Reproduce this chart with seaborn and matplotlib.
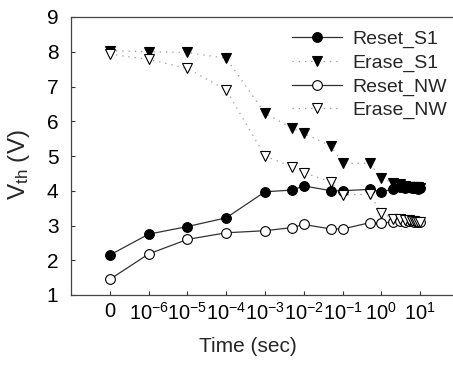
import numpy as np
import pandas as pd
import seaborn as sns
import matplotlib.pyplot as plt

times = [0, 1e-6, 1e-5, 1e-4, 1e-3, 5e-3, 1e-2, 5e-2, 1e-1, 5e-1,
         1, 2, 3, 4, 5, 6, 7, 8, 9, 10]
reset_s1 = [2.15, 2.75, 2.97, 3.22, 3.97, 4.02, 4.14, 4.00, 4.00, 4.04,
            3.97, 4.05, 4.10, 4.08, 4.10, 4.08, 4.07, 4.08, 4.06, 4.07]
erase_s1 = [8.03, 8.00, 7.98, 7.81, 6.23, 5.81, 5.65, 5.29, 4.79, 4.79,
            4.36, 4.23, 4.18, 4.15, 4.12, 4.12, 4.10, 4.10, 4.10, 4.08]
reset_nw = [1.45, 2.18, 2.60, 2.79, 2.85, 2.94, 3.03, 2.90, 2.90, 3.08,
            3.07, 3.10, 3.12, 3.10, 3.12, 3.12, 3.10, 3.12, 3.10, 3.10]
erase_nw = [7.93, 7.78, 7.52, 6.90, 5.00, 4.69, 4.52, 4.26, 3.88, 3.90,
            3.35, 3.20, 3.18, 3.15, 3.15, 3.12, 3.12, 3.10, 3.10, 3.10]
tick_labels = ['0', '$10^{-6}$', '$10^{-5}$', '$10^{-4}$', '$10^{-3}$',
               '$10^{-2}$', '$10^{-1}$', '$10^{0}$', '$10^{1}$']


def to_pos(t):
    # broken time axis: 0 sits one decade left of 1e-6
    t = np.asarray(t, dtype=float)
    out = np.zeros_like(t)
    out[t > 0] = np.log10(t[t > 0]) + 7
    return out


df = pd.DataFrame({'pos': to_pos(times), 'Reset_S1': reset_s1, 'Erase_S1': erase_s1,
                   'Reset_NW': reset_nw, 'Erase_NW': erase_nw})

sns.set_style('ticks')
plt.rcParams['font.family'] = ['Liberation Sans', 'DejaVu Sans']
plt.rcParams['mathtext.fontset'] = 'custom'
plt.rcParams['mathtext.rm'] = 'Liberation Sans'
plt.rcParams['mathtext.it'] = 'Liberation Sans'

fig = plt.figure(figsize=(4.53, 3.66), dpi=100)
ax = fig.add_axes([71 / 453, 1 - 295 / 366, 388 / 453, 278 / 366])

dot = (0, (1, 4))
styles = {
    'Reset_S1': dict(marker='o', color='#333333', mfc='black', mec='black', ls='-', ms=7),
    'Erase_S1': dict(marker='v', color='#999999', mfc='black', mec='black', ls=dot, ms=7.5),
    'Reset_NW': dict(marker='o', color='#333333', mfc='white', mec='black', ls='-', ms=7),
    'Erase_NW': dict(marker='v', color='#999999', mfc='white', mec='black', ls=dot, ms=7.5),
}
for name in ['Reset_S1', 'Erase_S1', 'Reset_NW', 'Erase_NW']:
    st = styles[name]
    sns.lineplot(data=df, x='pos', y=name, ax=ax, label=name, sort=False,
                 marker=st['marker'], color=st['color'], linestyle=st['ls'],
                 markerfacecolor=st['mfc'], markeredgecolor=st['mec'],
                 markersize=st['ms'], markeredgewidth=0.8, linewidth=0.9)

ax.set_xlim(-1, 9)
ax.set_ylim(1, 9)
ax.set_xticks(range(9))
ax.set_xticklabels(tick_labels)
ax.set_yticks(range(1, 10))
ax.tick_params(direction='in', length=3, width=0.8, colors='#333333',
               labelcolor='black')
ax.tick_params(axis='y', pad=9, labelsize=15)
ax.tick_params(axis='x', pad=5, labelsize=14.5)
for s in ax.spines.values():
    s.set_color('#444444')
    s.set_linewidth(0.9)

ax.set_xlabel('Time (sec)', fontsize=15)
ax.xaxis.set_label_coords((248 - 71) / 388, -(346 - 295) / 278)
ax.set_ylabel('V$_{\\mathrm{th}}$ (V)', fontsize=17.5)
ax.yaxis.set_label_coords(-(71 - 19) / 388, (295 - 165) / 278)
ax.yaxis.label.set_verticalalignment('center')
ax.xaxis.label.set_verticalalignment('center')

leg = ax.legend(loc='upper right', bbox_to_anchor=(1.004, 1.0), frameon=False,
                fontsize=14, handlelength=2.6, handletextpad=0.5,
                labelspacing=0.3, borderaxespad=0.3)

fig.savefig('out.png', dpi=100)
